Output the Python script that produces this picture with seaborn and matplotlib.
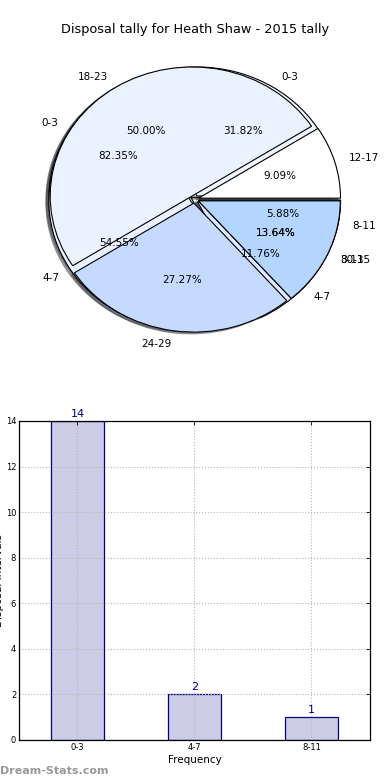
import matplotlib
matplotlib.use("Agg")
import matplotlib.pyplot as plt
import seaborn as sns
import pandas as pd

# pie data (three pies stacked on one axes, like the original)
age_labels = ["12-17", "18-23", "24-29", "30-35"]
age_games = [2, 11, 6, 3]
career_labels = ["0-3", "4-7", "8-11"]
career_counts = [7, 12, 3]
freq_labels = ["0-3", "4-7", "8-11"]
freq_counts = [14, 2, 1]

title = "Disposal tally for Heath Shaw - 2015 tally"

sns.set_style("white")
plt.rcParams["font.family"] = ["DejaVu Sans"]
plt.rcParams["text.color"] = "black"
plt.rcParams["axes.labelcolor"] = "black"
plt.rcParams["xtick.color"] = "black"
plt.rcParams["ytick.color"] = "black"

fig = plt.figure(figsize=(3.9, 7.8), dpi=100)

# ---- pie part ----
ax1 = fig.add_axes([0.0436, 0.5378, 0.910, 0.4135])
expl = 0.03
txt = {"fontsize": 7.5, "color": "black"}
wp = {"edgecolor": "black", "linewidth": 0.8}
shd = {"ox": -0.015, "oy": -0.01}

ax1.pie(freq_counts, labels=freq_labels, autopct="%.2f%%", explode=[expl] * 3,
        colors=["#ebf2ff", "#dfe9ff", "#c6d9ff"], shadow=shd,
        wedgeprops=wp, textprops=txt)
ax1.pie(career_counts, labels=career_labels, autopct="%.2f%%", explode=[expl] * 3,
        colors=["#f0f5ff", "#ebf2ff", "#c6d9ff"], shadow=shd,
        wedgeprops=wp, textprops=txt)
ax1.pie(age_games, labels=age_labels, autopct="%.2f%%", explode=[expl] * 4,
        colors=["white", "#ebf2ff", "#c6d9ff", "#b3d5ff"], shadow=shd,
        wedgeprops=wp, textprops=txt)
ax1.set_aspect("auto")
ax1.set_xlim(-1.25, 1.25)
ax1.set_ylim(-1.25, 1.25)
ax1.axis("off")

fig.text(0.5, 1 - 30 / 780, title, ha="center", va="center", fontsize=9.3)

# ---- bar part ----
df = pd.DataFrame({"interval": freq_labels, "count": freq_counts})
ax2 = fig.add_axes([0.0487, 0.0513, 0.9, 0.409])
sns.barplot(data=df, x="interval", y="count", ax=ax2, width=0.445,
            color="#ccccE6", edgecolor="navy", linewidth=0.9, saturation=1)
ax2.bar_label(ax2.containers[0], color="navy", fontsize=8, padding=1.5)
ax2.set_xlim(-0.5, 2.5)
ax2.set_ylim(0, 14)
ax2.set_yticks(range(0, 15, 2))
ax2.grid(True, linestyle=":", color="#b8b8b8", linewidth=0.8)
ax2.set_axisbelow("line")
for b in ax2.patches:
    b.set_zorder(1)
ax2.tick_params(direction="in", labelsize=6, length=3, width=0.6,
                top=True, right=True, pad=2)
for s in ax2.spines.values():
    s.set_visible(True)
    s.set_color("black")
    s.set_linewidth(0.9)
ax2.set_xlabel("Frequency", fontsize=7.5, labelpad=2)
# the original label is mostly cut off at the left edge of the image
ax2.set_ylabel("Disposal Intervals", fontsize=7.5)
ax2.yaxis.set_label_coords(-0.044, 0.5)

fig.text(0.0, 1 - 771 / 780, "Dream-Stats.com", ha="left", va="center",
         fontsize=8, color="#999999", fontweight="bold")

fig.savefig("out.png", dpi=100)
